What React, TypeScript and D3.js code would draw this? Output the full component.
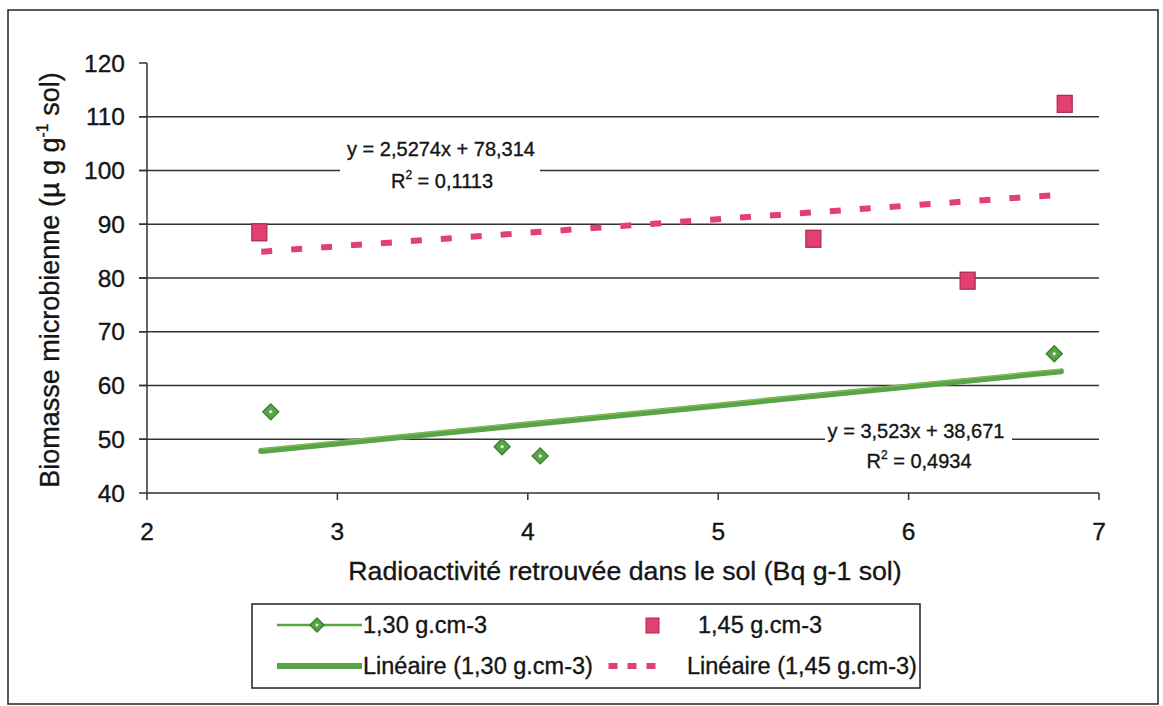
import React from "react";
import * as d3 from "d3";

const xTicks = [2, 3, 4, 5, 6, 7];
const yTicks = [40, 50, 60, 70, 80, 90, 100, 110, 120];
const gridValues = [50, 60, 70, 80, 90, 100, 110];

const seriesA_x = [2.65, 3.865, 4.065, 6.765];
const seriesA_y = [55.1, 48.6, 46.9, 65.9];
const seriesB_x = [2.59, 5.5, 6.31, 6.82];
const seriesB_y = [88.5, 87.3, 79.5, 112.4];

const trendA = { slope: 3.523, intercept: 38.671, from: 2.6, to: 6.8 };
const trendB = { slope: 2.5274, intercept: 78.314, from: 2.6, to: 6.8 };

const seriesNames = ["1,30 g.cm-3", "1,45 g.cm-3", "Linéaire (1,30 g.cm-3)", "Linéaire (1,45 g.cm-3)"];
const eqA = ["y = 3,523x + 38,671", "0,4934"];
const eqB = ["y = 2,5274x + 78,314", "0,1113"];

const GREEN = "#58a446";
const GREEN_DARK = "#357e2e";
const PINK = "#e4406f";
const PINK_DARK = "#a9264d";
const FONT = "'Liberation Sans', Arial, sans-serif";
const INK = "#151515";

function Diamond({ cx, cy, r }: { cx: number; cy: number; r: number }) {
  return (
    <g>
      <path
        d={`M${cx},${cy - r}L${cx + r},${cy}L${cx},${cy + r}L${cx - r},${cy}Z`}
        fill={GREEN}
        stroke={GREEN_DARK}
        strokeWidth={1.3}
      />
      <path
        d={`M${cx},${cy - r * 0.25}L${cx + r * 0.25},${cy}L${cx},${cy + r * 0.25}L${cx - r * 0.25},${cy}Z`}
        fill="#e6efe0"
      />
    </g>
  );
}

export default function App() {
  const x = d3.scaleLinear().domain([2, 7]).range([147, 1099]);
  const y = d3.scaleLinear().domain([40, 120]).range([493, 63]);

  const trendLine = (t: typeof trendA) =>
    d3.line<number>()
      .x((v) => x(v))
      .y((v) => y(t.slope * v + t.intercept))([t.from, t.to]) as string;

  const textStyle = { stroke: INK, strokeWidth: 0.35 };

  return (
    <svg width={1163} height={706} style={{ position: "absolute", left: 0, top: 0, background: "#fff" }} fontFamily={FONT}>
      <rect x={0} y={0} width={1163} height={706} fill="#fff" />
      <rect x={8} y={10} width={1150} height={694} fill="none" stroke="#222" strokeWidth={1.5} />

      {/* gridlines */}
      {gridValues.map((v) => (
        <line key={v} x1={139} x2={x(7)} y1={y(v)} y2={y(v)} stroke="#333" strokeWidth={1.5} />
      ))}
      {/* y axis */}
      <line x1={x(2)} x2={x(2)} y1={y(120)} y2={y(40)} stroke="#333" strokeWidth={1.5} />
      {yTicks.map((v) => (
        <line key={"yt" + v} x1={139} x2={x(2)} y1={y(v)} y2={y(v)} stroke="#333" strokeWidth={1.5} />
      ))}
      {yTicks.map((v) => (
        <text key={"yl" + v} x={125} y={y(v) + 8.5} textAnchor="end" fontSize={24.5} fill={INK} style={textStyle}>
          {v}
        </text>
      ))}
      {/* x axis */}
      <line x1={x(2)} x2={x(7)} y1={y(40)} y2={y(40)} stroke="#333" strokeWidth={1.5} />
      {xTicks.map((v) => (
        <line key={"xt" + v} x1={x(v)} x2={x(v)} y1={y(40)} y2={y(40) + 7} stroke="#333" strokeWidth={1.5} />
      ))}
      {xTicks.map((v) => (
        <text key={"xl" + v} x={x(v)} y={540} textAnchor="middle" fontSize={24.5} fill={INK} style={textStyle}>
          {v}
        </text>
      ))}

      {/* axis titles */}
      <text x={625} y={580} textAnchor="middle" fontSize={26.7} fill={INK} style={textStyle}>
        Radioactivité retrouvée dans le sol (Bq g-1 sol)
      </text>
      <text transform="translate(59,280) rotate(-90)" textAnchor="middle" fontSize={27} fill={INK} style={textStyle}>
        Biomasse microbienne (µ g g
        <tspan fontSize={16} dy={-11}>-1</tspan>
        <tspan dy={11}> sol)</tspan>
      </text>

      {/* equation label boxes */}
      <rect x={340} y={138} width={200} height={56} fill="#fff" />
      <rect x={825} y={420} width={187} height={54} fill="#fff" />

      {/* trend lines */}
      <path d={trendLine(trendA)} stroke={GREEN} strokeWidth={6} fill="none" strokeLinecap="round" />
      <path d={trendLine(trendA)} stroke="#c8d860" strokeWidth={1} fill="none" opacity={0.5} transform="translate(0,-2)" />
      <path d={trendLine(trendB)} stroke={PINK} strokeWidth={6} fill="none" strokeDasharray="11 19" />

      {/* markers */}
      {seriesA_x.map((v, i) => (
        <Diamond key={"a" + i} cx={x(v)} cy={y(seriesA_y[i])} r={8} />
      ))}
      {seriesB_x.map((v, i) => (
        <rect
          key={"b" + i}
          x={x(v) - 7.5}
          y={y(seriesB_y[i]) - 8.5}
          width={15}
          height={17}
          fill={PINK}
          stroke={PINK_DARK}
          strokeWidth={1.2}
        />
      ))}

      {/* equations */}
      <text x={441} y={156} textAnchor="middle" fontSize={20} fill={INK} style={textStyle}>{eqB[0]}</text>
      <text x={442} y={188} textAnchor="middle" fontSize={20} fill={INK} style={textStyle}>
        R<tspan fontSize={12} dy={-9}>2</tspan>
        <tspan dy={9}> = {eqB[1]}</tspan>
      </text>
      <text x={916} y={438} textAnchor="middle" fontSize={20} fill={INK} style={textStyle}>{eqA[0]}</text>
      <text x={919} y={468} textAnchor="middle" fontSize={20} fill={INK} style={textStyle}>
        R<tspan fontSize={12} dy={-9}>2</tspan>
        <tspan dy={9}> = {eqA[1]}</tspan>
      </text>

      {/* legend */}
      <rect x={252} y={604} width={668} height={84} fill="#fff" stroke="#222" strokeWidth={1.5} />
      <line x1={277} x2={362} y1={625} y2={625} stroke={GREEN} strokeWidth={2.5} />
      <Diamond cx={317} cy={625} r={7} />
      <text x={363} y={633} fontSize={23.5} fill={INK} style={textStyle}>{seriesNames[0]}</text>
      <line x1={277} x2={362} y1={666} y2={666} stroke={GREEN} strokeWidth={6} />
      <text x={363} y={674} fontSize={23.5} fill={INK} style={textStyle}>{seriesNames[2]}</text>
      <rect x={646} y={618} width={13} height={15} fill={PINK} stroke={PINK_DARK} strokeWidth={1} />
      <text x={698} y={633} fontSize={23.5} fill={INK} style={textStyle}>{seriesNames[1]}</text>
      {[613, 632, 651].map((cx) => (
        <rect key={cx} x={cx - 4.5} y={663} width={9} height={6} fill={PINK} />
      ))}
      <text x={687} y={674} fontSize={23.5} fill={INK} style={textStyle}>{seriesNames[3]}</text>
    </svg>
  );
}
